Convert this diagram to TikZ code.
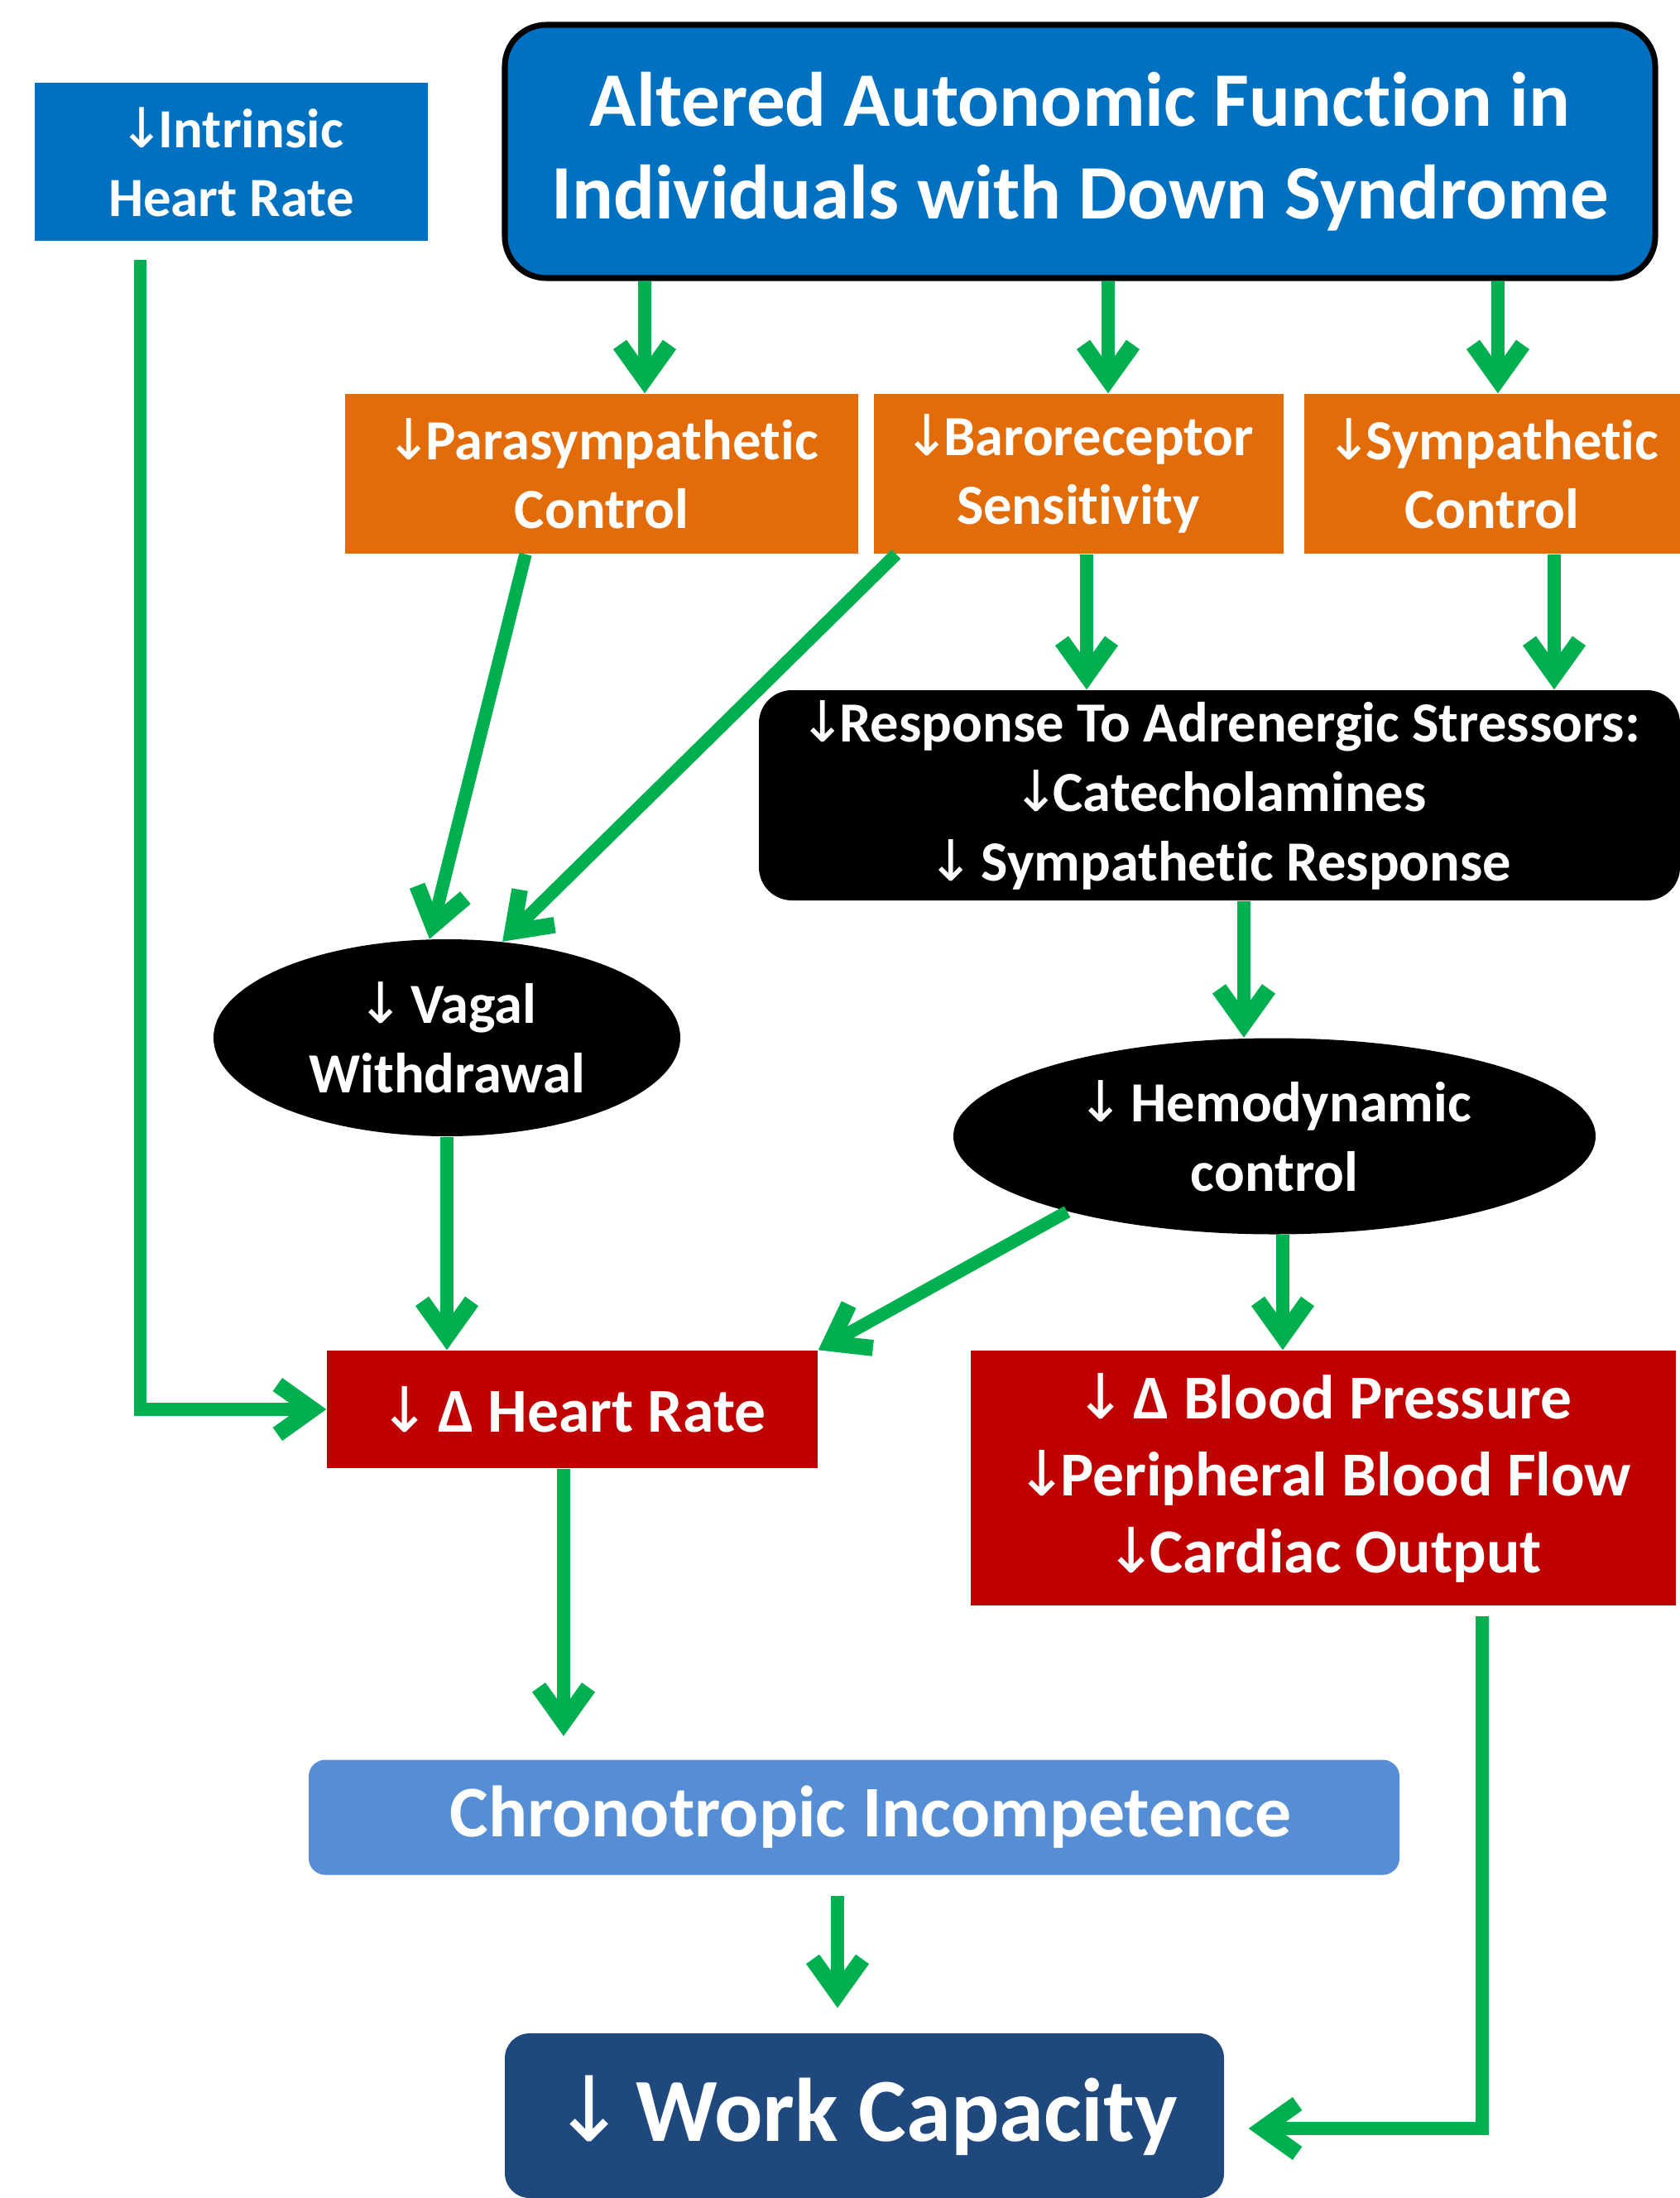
\documentclass[tikz,border=0pt]{standalone}
\usepackage{fontspec}
\setmainfont{Carlito}[Ligatures={NoCommon,NoRequired,NoContextual}]
\newfontfamily\arrowfont{DejaVu Sans}
\usetikzlibrary{arrows.meta,shapes.geometric}
\newcommand{\dn}{{\arrowfont\mdseries ↓}\kern-0.12em}
\definecolor{mainblue}{HTML}{0070C0}
\definecolor{ctrlorange}{HTML}{E36C0A}
\definecolor{effred}{HTML}{C00000}
\definecolor{chronoblue}{HTML}{558ED5}
\definecolor{workblue}{HTML}{1F497D}
\definecolor{flowgreen}{HTML}{00B050}
\begin{document}
\begin{tikzpicture}[
    box/.style={rectangle, inner sep=0pt, align=center, text=white},
    fsize/.style n args={2}{font=\fontsize{#1}{#2}\bfseries\selectfont},
    flow/.style={draw=flowgreen, line width=4.4pt,
      -{Straight Barb[length=0.42cm,width=0.6cm,line width=5.6pt]}}
  ]
  \useasboundingbox (0,0) rectangle (20.3,-26.56);
  % top row
  \node[box, fill=mainblue, minimum width=4.75cm, minimum height=1.91cm, fsize={19}{23.6}]
    (intr) at (2.795,-1.955) {\dn Intrinsic\\Heart Rate};
  \node[box, fill=mainblue, draw=black, line width=2pt, rounded corners=0.5cm,
    minimum width=13.9cm, minimum height=3.06cm, fsize={26.5}{32}]
    (main) at (13.05,-1.83) {Altered Autonomic Function in\\Individuals with Down Syndrome};
  % control boxes
  \node[box, fill=ctrlorange, minimum width=6.2cm, minimum height=1.93cm, fsize={19.5}{23.6}]
    (para) at (7.27,-5.725) {\dn Parasympathetic\\Control};
  \node[box, fill=ctrlorange, minimum width=4.95cm, minimum height=1.93cm, fsize={19.5}{23.6}]
    (baro) at (13.03,-5.725) {\dn Baroreceptor\\Sensitivity};
  \node[box, fill=ctrlorange, minimum width=4.54cm, minimum height=1.93cm, fsize={19.5}{23.6}]
    (symp) at (18.03,-5.725) {\dn Sympathetic\\Control};
  \node[box, fill=black, rounded corners=0.4cm, minimum width=11.13cm, minimum height=2.54cm,
    fsize={19.5}{24}]
    (resp) at (14.735,-9.61) {\dn Response To Adrenergic Stressors:\\\dn Catecholamines\\\dn{} Sympathetic Response};
  % ellipses
  \node[ellipse, inner sep=0pt, align=center, text=white, fill=black,
    minimum width=5.64cm, minimum height=2.38cm, fsize={19.5}{24}]
    (vagal) at (5.40,-12.54) {\dn{} Vagal\\Withdrawal};
  \node[ellipse, inner sep=0pt, align=center, text=white, fill=black,
    minimum width=7.76cm, minimum height=2.37cm, fsize={19.5}{24}]
    (hemo) at (15.40,-13.73) {\dn{} Hemodynamic\\control};
  % effects
  \node[box, fill=effred, minimum width=5.93cm, minimum height=1.42cm, fsize={21.5}{26}]
    (hr) at (6.915,-17.03) {\dn{} Δ Heart Rate};
  \node[box, fill=effred, minimum width=8.52cm, minimum height=3.08cm, fsize={21.5}{26.5}]
    (bp) at (15.99,-17.86) {\dn{} Δ Blood Pressure\\\dn Peripheral Blood Flow\\\dn Cardiac Output};
  \node[box, fill=chronoblue, rounded corners=0.2cm, minimum width=13.18cm, minimum height=1.39cm,
    fsize={25}{30}]
    (chrono) at (10.32,-21.96) {\hspace{0.4cm}Chronotropic Incompetence};
  \node[box, fill=workblue, rounded corners=0.3cm, minimum width=8.69cm, minimum height=1.99cm,
    fsize={31}{36}]
    (work) at (10.445,-25.565) {\dn{} Work Capacity};
  % connectors
  \draw[flow] (main.south -| 7.79,0) -- (para.north -| 7.79,0);
  \draw[flow] (main.south -| 13.39,0) -- (baro.north -| 13.39,0);
  \draw[flow] (main.south -| 18.10,0) -- (symp.north -| 18.10,0);
  \draw[flow] (baro.south -| 13.13,0) -- (resp.north -| 13.13,0);
  \draw[flow] (symp.south -| 18.78,0) -- (resp.north -| 18.78,0);
  \draw[flow] (para.south -| 6.35,0) -- (vagal.100);
  \draw[flow] ([xshift=0.28cm]baro.south west) -- (vagal.60);
  \draw[flow] (resp.south -| 15.03,0) -- (hemo.north -| 15.03,0);
  \draw[flow] (vagal.south) -- (vagal.south |- hr.north);
  \draw[flow] (hemo.200) -- (hr.north east);
  \draw[flow] (hemo.south -| 15.50,0) -- (bp.north -| 15.50,0);
  \draw[flow] ([yshift=-0.22cm]intr.south -| 1.695,0) |- (hr.west);
  \draw[flow, shorten >=0.28cm] (hr.south -| 6.81,0) -- (chrono.north -| 6.81,0);
  \draw[flow, shorten <=0.25cm, shorten >=0.3cm] (chrono.south -| 10.12,0) -- (work.north -| 10.12,0);
  \draw[flow, shorten >=0.29cm] ([yshift=-0.12cm]bp.south -| 17.91,0) |- (work.east |- 0,-25.72);
\end{tikzpicture}
\end{document}
